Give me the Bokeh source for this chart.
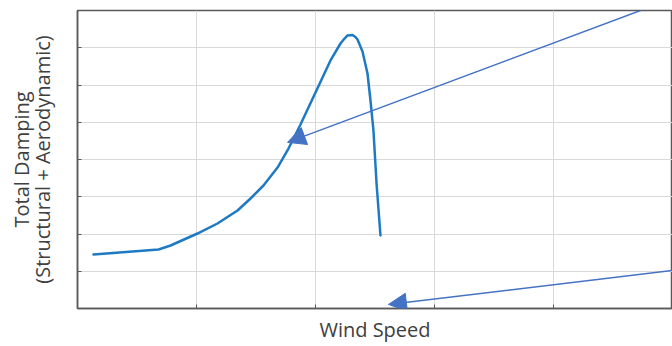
from bokeh.plotting import figure
from bokeh.models import FixedTicker, Arrow, NormalHead, ColumnDataSource
from bokeh.embed import file_html
from bokeh.resources import INLINE

# Curve (wind speed vs total damping), arbitrary units
wind = [0.134, 0.681, 0.782, 1.008, 1.176, 1.345, 1.454, 1.563, 1.681, 1.773,
        1.874, 2.000, 2.126, 2.210, 2.244, 2.269, 2.311, 2.336, 2.353, 2.395,
        2.437, 2.462, 2.487, 2.513, 2.546]
damping = [1.450, 1.584, 1.691, 2.013, 2.282, 2.631, 2.953, 3.302, 3.785, 4.295,
           4.940, 5.799, 6.658, 7.114, 7.248, 7.329, 7.342, 7.289, 7.221, 6.899,
           6.309, 5.584, 4.779, 3.356, 1.960]

# Annotation arrows (start -> tip)
arrow_x_start = [5.0, 5.0]
arrow_y_start = [8.32, 1.02]
arrow_x_end = [1.765, 2.613]
arrow_y_end = [4.46, 0.11]

x_ticks = [0, 1, 2, 3, 4, 5]
y_ticks = [0, 1, 2, 3, 4, 5, 6, 7, 8]

x_title = "Wind Speed"
y_title = "Total Damping\n(Structural + Aerodynamic)"

axis_col = "#595959"
text_col = "#404040"
curve_col = "#1f7ac4"
arrow_col = "#4472c4"

p = figure(width=672, height=346, output_backend="svg", toolbar_location=None,
           x_range=(0, 5.0), y_range=(0, 8),
           min_border_left=77, min_border_right=0, min_border_top=10, min_border_bottom=38)

p.xaxis.ticker = FixedTicker(ticks=x_ticks)
p.yaxis.ticker = FixedTicker(ticks=y_ticks)
p.xaxis.major_label_overrides = {t: "" for t in x_ticks}
p.yaxis.major_label_overrides = {t: "" for t in y_ticks}
for ax in (p.xaxis, p.yaxis):
    ax.major_label_text_color = None
    ax.major_label_standoff = 0
    ax.major_tick_in = 4
    ax.major_tick_out = 0
    ax.minor_tick_in = 0
    ax.minor_tick_out = 0
    ax.axis_line_color = axis_col
    ax.axis_line_width = 1.5
    ax.major_tick_line_color = axis_col
    ax.axis_label_text_font = "Open Sans"
    ax.axis_label_text_font_size = "20px"
    ax.axis_label_text_font_style = "normal"
    ax.axis_label_text_color = text_col

p.xaxis.axis_label = x_title
p.yaxis.axis_label = y_title
p.xaxis.axis_label_standoff = 7
p.yaxis.axis_label_standoff = 22
p.yaxis.axis_label_text_line_height = 0.75

p.grid.grid_line_color = "#d9d9d9"
p.grid.grid_line_width = 1
p.outline_line_color = axis_col
p.outline_line_width = 1.5
p.background_fill_color = "white"
p.border_fill_color = "white"

p.line(wind, damping, line_color=curve_col, line_width=2.5, line_join="round", line_cap="round")

src = ColumnDataSource(dict(x0=arrow_x_start, y0=arrow_y_start, x1=arrow_x_end, y1=arrow_y_end))
p.add_layout(Arrow(source=src, x_start="x0", y_start="y0", x_end="x1", y_end="y1",
                   line_color=arrow_col, line_width=1.5,
                   end=NormalHead(size=18, fill_color=arrow_col, line_color=arrow_col, line_width=1)))

open("out.html", "w").write(file_html(p, INLINE))
